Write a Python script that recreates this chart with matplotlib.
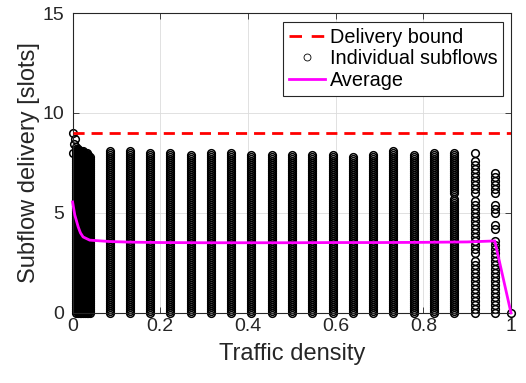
import matplotlib
matplotlib.use("Agg")
import matplotlib.pyplot as plt
from matplotlib.lines import Line2D

plt.rcParams['font.family'] = ['Liberation Sans', 'DejaVu Sans']

# ---------------- data ----------------
y_levels = [0.0, 0.1, 0.2, 0.3, 0.4, 0.5, 0.6, 0.7, 0.8, 0.9,
            1.0, 1.1, 1.2, 1.3, 1.4, 1.5, 1.6, 1.7, 1.8, 1.9,
            2.0, 2.1, 2.2, 2.3, 2.4, 2.5, 2.6, 2.7, 2.8, 2.9,
            3.0, 3.1, 3.2, 3.3, 3.4, 3.5, 3.6, 3.7, 3.8, 3.9,
            4.0, 4.1, 4.2, 4.3, 4.4, 4.5, 4.6, 4.7, 4.8, 4.9,
            5.0, 5.1, 5.2, 5.3, 5.4, 5.5, 5.6, 5.7, 5.8, 5.9,
            6.0, 6.1, 6.2, 6.3, 6.4, 6.5, 6.6, 6.7, 6.8, 6.9,
            7.0, 7.1, 7.2, 7.3, 7.4, 7.5, 7.6, 7.7, 7.8, 7.9,
            8.0, 8.1, 8.2, 8.3, 8.4]

# dense low-density region
dense_x = [0.008, 0.012, 0.016, 0.020, 0.024, 0.028, 0.032, 0.036, 0.040]
dense_top = [8.3, 8.2, 8.1, 8.1, 8.1, 8.0, 8.0, 7.9, 7.8]
outlier_x = [0.0, 0.006, 0.004, 0.002]
outlier_y = [9.0, 8.7, 8.45, 8.0]

# discrete traffic densities
col_x = [0.085, 0.131, 0.177, 0.223, 0.269, 0.316, 0.362, 0.408, 0.454, 0.500,
         0.547, 0.593, 0.639, 0.685, 0.731, 0.778, 0.824, 0.870, 0.917, 0.963]
col_segments = [
    [(0, 8.1)], [(0, 8.1)], [(0, 8.0)], [(0, 8.0)], [(0, 7.9)],
    [(0, 8.0)], [(0, 8.0)], [(0, 7.9)], [(0, 7.9)], [(0, 7.9)],
    [(0, 7.9)], [(0, 7.9)], [(0, 7.8)], [(0, 7.9)], [(0, 8.1)],
    [(0, 7.9)], [(0, 8.0)],
    [(0, 5.7), (6.0, 8.0)],
    [(0, 2.7), (3.0, 5.7), (5.9, 7.6), (8.0, 8.0)],
    [(0, 3.6), (4.05, 4.55), (5.0, 5.55), (6.0, 7.1)],
]
col_stride = [1, 1, 1, 1, 1, 1, 1, 1, 1, 1, 1, 1, 1, 1, 1, 1, 1, 1, 2, 2]
end_x = [1.0]
end_y = [0.0]

# average curve
avg_x = [0.0, 0.005, 0.0128, 0.018, 0.024, 0.039, 0.085, 0.131, 0.2, 0.3, 0.4, 0.5,
         0.6, 0.7, 0.8, 0.9, 0.963, 1.0]
avg_y = [5.55, 4.9, 4.3, 4.0, 3.8, 3.64, 3.57, 3.54, 3.52, 3.51, 3.51, 3.51,
         3.52, 3.52, 3.53, 3.55, 3.6, 0.0]

bound_x = [0.0, 1.0]
bound_y = [9.0, 9.0]

# ---------------- build scatter points ----------------
sx, sy = [], []
for x, top in zip(dense_x, dense_top):
    for v in y_levels:
        if v <= top + 1e-9:
            sx.append(x); sy.append(v)
sx += outlier_x; sy += outlier_y
for x, segs, st in zip(col_x, col_segments, col_stride):
    for i, v in enumerate(y_levels):
        if i % st:
            continue
        if any(lo - 1e-9 <= v <= hi + 1e-9 for lo, hi in segs):
            sx.append(x); sy.append(v)
sx += end_x; sy += end_y

# ---------------- plot ----------------
fig = plt.figure(figsize=(5.26, 3.83), dpi=100)
ax = fig.add_axes([0.138, 0.183, 0.8335, 0.783])

ax.plot(sx, sy, 'o', mfc='none', mec='k', ms=5.5, mew=1.1, zorder=2, clip_on=False)
ax.plot(bound_x, bound_y, color='#ff0000', lw=2, dashes=(4, 2.5), zorder=3)
ax.plot(avg_x, avg_y, color='#ff00ff', lw=2, zorder=4, clip_on=False)

ax.set_xlim(0, 1)
ax.set_ylim(0, 15)
ax.set_xticks([0, 0.2, 0.4, 0.6, 0.8, 1])
ax.set_xticklabels(['0', '0.2', '0.4', '0.6', '0.8', '1'])
ax.set_yticks([0, 5, 10, 15])
ax.grid(True, color='#dcdcdc', lw=0.6)
ax.set_axisbelow(True)
ax.tick_params(direction='in', top=True, right=True, labelsize=14,
               colors='#262626', length=4, width=0.6)
ax.tick_params(axis='y', pad=6)
for s in ax.spines.values():
    s.set_color('#262626')
    s.set_linewidth(0.8)

ax.set_xlabel('Traffic density', fontsize=17, color='#262626', labelpad=6)
ax.set_ylabel('Subflow delivery [slots]', fontsize=17, color='#262626', labelpad=2)

handles = [
    Line2D([], [], color='#ff0000', lw=2, dashes=(4.5, 3.5)),
    Line2D([], [], ls='none', marker='o', mfc='none', mec='k', ms=5, mew=0.6),
    Line2D([], [], color='#ff00ff', lw=2),
]
leg = ax.legend(handles, ['Delivery bound', 'Individual subflows', 'Average'],
                loc='upper right', bbox_to_anchor=(0.982, 0.97), borderaxespad=0,
                fontsize=14.3, fancybox=False, framealpha=1, edgecolor='#262626',
                handlelength=1.8, handletextpad=0.25, borderpad=0.3,
                labelspacing=0.12)
leg.get_frame().set_linewidth(0.8)

fig.savefig('out.png', dpi=100)
